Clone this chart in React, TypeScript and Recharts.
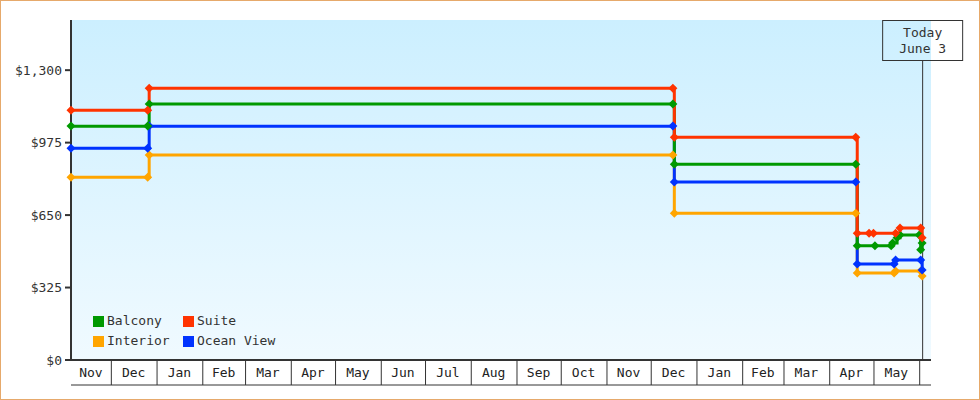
import { LineChart, Line, XAxis, YAxis, CartesianGrid, ReferenceLine, Legend } from "recharts";

// price history per cabin type (date of change -> fare in USD)
const balcony = [
  { date: "2023-11-04", price: 1049 },
  { date: "2023-12-26", price: 1049 },
  { date: "2023-12-27", price: 1148 },
  { date: "2024-12-16", price: 1148 },
  { date: "2024-12-17", price: 878 },
  { date: "2025-04-19", price: 878 },
  { date: "2025-04-20", price: 512 },
  { date: "2025-05-02", price: 512 },
  { date: "2025-05-13", price: 512 },
  { date: "2025-05-14", price: 525 },
  { date: "2025-05-17", price: 548 },
  { date: "2025-05-19", price: 561 },
  { date: "2025-06-01", price: 561 },
  { date: "2025-06-02", price: 494 },
  { date: "2025-06-03", price: 525 },
];

const suite = [
  { date: "2023-11-04", price: 1120 },
  { date: "2023-12-26", price: 1120 },
  { date: "2023-12-27", price: 1219 },
  { date: "2024-12-16", price: 1219 },
  { date: "2024-12-17", price: 999 },
  { date: "2025-04-19", price: 999 },
  { date: "2025-04-20", price: 569 },
  { date: "2025-04-28", price: 569 },
  { date: "2025-05-01", price: 569 },
  { date: "2025-05-16", price: 569 },
  { date: "2025-05-19", price: 592 },
  { date: "2025-06-02", price: 592 },
  { date: "2025-06-03", price: 548 },
];

const interior = [
  { date: "2023-11-04", price: 820 },
  { date: "2023-12-26", price: 820 },
  { date: "2023-12-27", price: 919 },
  { date: "2024-12-16", price: 919 },
  { date: "2024-12-17", price: 658 },
  { date: "2025-04-19", price: 658 },
  { date: "2025-04-20", price: 390 },
  { date: "2025-05-15", price: 390 },
  { date: "2025-05-16", price: 399 },
  { date: "2025-06-02", price: 399 },
  { date: "2025-06-03", price: 377 },
];

const oceanView = [
  { date: "2023-11-04", price: 950 },
  { date: "2023-12-26", price: 950 },
  { date: "2023-12-27", price: 1049 },
  { date: "2024-12-16", price: 1049 },
  { date: "2024-12-17", price: 798 },
  { date: "2025-04-19", price: 798 },
  { date: "2025-04-20", price: 431 },
  { date: "2025-05-15", price: 431 },
  { date: "2025-05-16", price: 449 },
  { date: "2025-06-02", price: 449 },
  { date: "2025-06-03", price: 404 },
];

const monthLabels = [
  "Nov", "Dec", "Jan", "Feb", "Mar", "Apr", "May", "Jun", "Jul", "Aug",
  "Sep", "Oct", "Nov", "Dec", "Jan", "Feb", "Mar", "Apr", "May",
];
const monthStarts = [
  "2023-12-01", "2024-01-01", "2024-02-01", "2024-03-01", "2024-04-01",
  "2024-05-01", "2024-06-01", "2024-07-01", "2024-08-01", "2024-09-01",
  "2024-10-01", "2024-11-01", "2024-12-01", "2025-01-01", "2025-02-01",
  "2025-03-01", "2025-04-01", "2025-05-01", "2025-06-01",
];
const rangeStart = "2023-11-04";
const rangeEnd = "2025-06-09";
const today = "2025-06-03";
const todayText = ["Today", "June 3"];

const priceTicks = [0, 325, 650, 975, 1300];
const priceMax = 1525;

const FONT = "'DejaVu Sans Mono', monospace";
const INK = "#333";
const TICK_GAP = 8; // tickSize + tickMargin of the month axis
const BOX_H = 25;

const toTime = (d: string) => Date.parse(`${d}T00:00:00Z`);
const xDomain = [toTime(rangeStart), toTime(rangeEnd)];
const boundaryTicks = monthStarts.map(toTime);
const labelTicks = monthLabels.map(
  (_, i) => (toTime(i === 0 ? rangeStart : monthStarts[i - 1]) + toTime(monthStarts[i])) / 2
);
const monthAxisTicks = [...boundaryTicks, ...labelTicks].sort((a, b) => a - b);

// draw order: last one ends up on top
const series = [
  { name: "Interior", color: "#ffa500", data: interior },
  { name: "Ocean View", color: "#0033ff", data: oceanView },
  { name: "Balcony", color: "#009900", data: balcony },
  { name: "Suite", color: "#ff3300", data: suite },
];
const legendOrder = ["Balcony", "Suite", "Interior", "Ocean View"];

const money = (v: number) => `$${v.toLocaleString("en-US")}`;

function Diamond(props: any) {
  const { cx, cy, fill } = props;
  if (cx == null || cy == null) return null;
  const r = 4.5;
  return (
    <polygon
      points={`${cx},${cy - r} ${cx + r},${cy} ${cx},${cy + r} ${cx - r},${cy}`}
      fill={fill}
    />
  );
}

// month axis: separators at month starts, names centred between them
function MonthTick(props: any) {
  const { x, y, payload } = props;
  const v = payload?.value;
  const top = y - TICK_GAP;
  const b = boundaryTicks.indexOf(v);
  if (b >= 0) {
    return <line x1={x + 0.5} x2={x + 0.5} y1={top} y2={top + BOX_H} stroke={INK} strokeWidth={1} />;
  }
  const i = labelTicks.indexOf(v);
  return (
    <text x={x} y={top + 17} textAnchor="middle" fontFamily={FONT} fontSize={13} fill="#222">
      {monthLabels[i]}
    </text>
  );
}

function TodayLabel(props: any) {
  const vb = props.viewBox || {};
  const x = vb.x + 0.5;
  const top = vb.y;
  return (
    <g>
      <rect x={x - 40} y={top + 0.5} width={80} height={40} fill="none" stroke={INK} strokeWidth={1} />
      <text x={x} y={top + 17} textAnchor="middle" fontFamily={FONT} fontSize={13} fill={INK}>
        {todayText[0]}
      </text>
      <text x={x} y={top + 33} textAnchor="middle" fontFamily={FONT} fontSize={13} fill={INK}>
        {todayText[1]}
      </text>
    </g>
  );
}

function TodayLine(props: any) {
  const top = Math.min(props.y1, props.y2);
  const bottom = Math.max(props.y1, props.y2);
  return <line x1={props.x1 + 0.5} x2={props.x2 + 0.5} y1={top + 40} y2={bottom} stroke={INK} strokeWidth={1} />;
}

function LegendBox() {
  return (
    <div
      style={{
        display: "grid",
        gridTemplateColumns: "90px 110px",
        fontFamily: FONT,
        fontSize: 13,
        color: INK,
        lineHeight: "20px",
      }}
    >
      {legendOrder.map((name) => {
        const s = series.find((x) => x.name === name)!;
        return (
          <div key={name} style={{ display: "flex", alignItems: "center", height: 20 }}>
            <span style={{ width: 11, height: 11, background: s.color, marginRight: 3, display: "inline-block" }} />
            {name}
          </div>
        );
      })}
    </div>
  );
}

export default function App() {
  return (
    <div
      style={{
        position: "absolute",
        left: 0,
        top: 0,
        width: 980,
        height: 400,
        boxSizing: "border-box",
        border: "1px solid #e6a96b",
        background: "#fff",
      }}
    >
      <LineChart width={978} height={398} margin={{ top: 19, right: 48, bottom: 13, left: 0 }}>
        <defs>
          <linearGradient id="plotBg" x1="0" y1="0" x2="0" y2="1">
            <stop offset="0%" stopColor="#ccefff" />
            <stop offset="100%" stopColor="#f0faff" />
          </linearGradient>
        </defs>
        <CartesianGrid xAxisId="month" horizontal={false} vertical={false} fill="url(#plotBg)" />
        <XAxis
          xAxisId="month"
          type="number"
          dataKey="time"
          domain={xDomain}
          ticks={monthAxisTicks}
          interval={0}
          tick={<MonthTick />}
          tickLine={false}
          tickSize={6}
          tickMargin={2}
          axisLine={{ stroke: INK, strokeWidth: 2 }}
          height={BOX_H}
        />
        {/* closes the month boxes underneath */}
        <XAxis
          xAxisId="under"
          type="number"
          dataKey="time"
          domain={xDomain}
          ticks={[]}
          tickLine={false}
          tickFormatter={() => ""}
          axisLine={{ stroke: INK, strokeWidth: 1 }}
          height={1}
        />
        <YAxis
          type="number"
          domain={[0, priceMax]}
          ticks={priceTicks}
          interval={0}
          tickFormatter={money}
          width={70}
          tickSize={6}
          tickMargin={3}
          axisLine={{ stroke: INK, strokeWidth: 2 }}
          tickLine={{ stroke: INK, strokeWidth: 2 }}
          tick={{ fill: INK, fontSize: 13, fontFamily: FONT }}
        />
        <ReferenceLine
          xAxisId="month"
          x={toTime(today)}
          stroke={INK}
          shape={(p: any) => <TodayLine {...p} />}
          label={(p: any) => <TodayLabel {...p} />}
        />
        {series.map((s) => (
          <Line
            key={s.name}
            xAxisId="month"
            name={s.name}
            data={s.data.map((d) => ({ time: toTime(d.date), price: d.price }))}
            dataKey="price"
            type="stepAfter"
            stroke={s.color}
            strokeWidth={3}
            dot={(p: any) => <Diamond key={`${s.name}-${p.index}`} {...p} fill={s.color} />}
            activeDot={false}
            isAnimationActive={false}
          />
        ))}
        <Legend
          layout="horizontal"
          verticalAlign="middle"
          align="center"
          content={() => <LegendBox />}
          wrapperStyle={{ position: "absolute", left: 92, top: 310, width: 210, height: 42 }}
        />
      </LineChart>
    </div>
  );
}
